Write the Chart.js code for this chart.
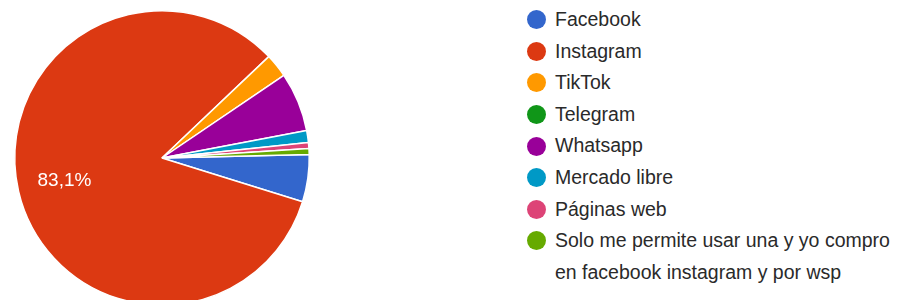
<!DOCTYPE html>
<html>
<head>
<meta charset="utf-8">
<script src="https://cdn.jsdelivr.net/npm/chart.js@4.4.1/dist/chart.umd.min.js"></script>
<style>
  html, body { margin: 0; padding: 0; background: #fff; }
  body { width: 899px; height: 300px; overflow: hidden; position: relative; font-family: Arial, "Liberation Sans", sans-serif; }
  #wrap { position: absolute; left: 0; top: 0; width: 330px; height: 320px; }
  #legend { position: absolute; left: 527px; top: 4px; width: 370px; margin: 0; padding: 0; list-style: none; }
  #legend li { position: relative; padding-left: 28px; font-size: 19.5px; line-height: 31.6px; color: #2a2a2a; }
  #legend li span.dot { position: absolute; left: 0; top: 6.3px; width: 19px; height: 19px; border-radius: 50%; }
</style>
</head>
<body>
<div id="wrap"><canvas id="c"></canvas></div>
<ul id="legend"></ul>
<script>
const categories = ["Facebook", "Instagram", "TikTok", "Telegram", "Whatsapp", "Mercado libre", "Páginas web", "Solo me permite usar una y yo compro en facebook instagram y por wsp"];
const shares = [5.2, 83.1, 2.6, 0, 6.5, 1.3, 0.65, 0.65];
const colors = ["#3366cc", "#dc3912", "#ff9900", "#109618", "#990099", "#0099c6", "#dd4477", "#66aa00"];

const sliceLabels = {
  id: 'sliceLabels',
  afterDatasetsDraw(chart) {
    const ctx = chart.ctx;
    const meta = chart.getDatasetMeta(0);
    const data = chart.data.datasets[0].data;
    const total = data.reduce((a, b) => a + b, 0);
    ctx.save();
    ctx.fillStyle = '#ffffff';
    ctx.font = '19px Arial, "Liberation Sans", sans-serif';
    ctx.textAlign = 'center';
    ctx.textBaseline = 'middle';
    meta.data.forEach((arc, i) => {
      const frac = data[i] / total;
      if (frac < 0.1) return;
      const p = arc.getProps(['x', 'y', 'startAngle', 'endAngle', 'outerRadius'], true);
      const mid = (p.startAngle + p.endAngle) / 2;
      const r = p.outerRadius * 0.68;
      const txt = (frac * 100).toFixed(1).replace('.', ',') + '%';
      ctx.fillText(txt, p.x + Math.cos(mid) * r, p.y + Math.sin(mid) * r);
    });
    ctx.restore();
  }
};

new Chart(document.getElementById('c'), {
  type: 'pie',
  data: {
    labels: categories,
    datasets: [{
      data: shares,
      backgroundColor: colors,
      borderColor: '#ffffff',
      borderWidth: 1.5
    }]
  },
  options: {
    responsive: true,
    maintainAspectRatio: false,
    animation: false,
    rotation: 88.6,
    layout: { padding: { left: 14, top: 10, right: 20, bottom: 14 } },
    plugins: {
      legend: { display: false },
      tooltip: { enabled: false }
    }
  },
  plugins: [sliceLabels]
});

const ul = document.getElementById('legend');
categories.forEach((name, i) => {
  const li = document.createElement('li');
  const dot = document.createElement('span');
  dot.className = 'dot';
  dot.style.background = colors[i];
  li.appendChild(dot);
  li.appendChild(document.createTextNode(name));
  ul.appendChild(li);
});
</script>
</body>
</html>
